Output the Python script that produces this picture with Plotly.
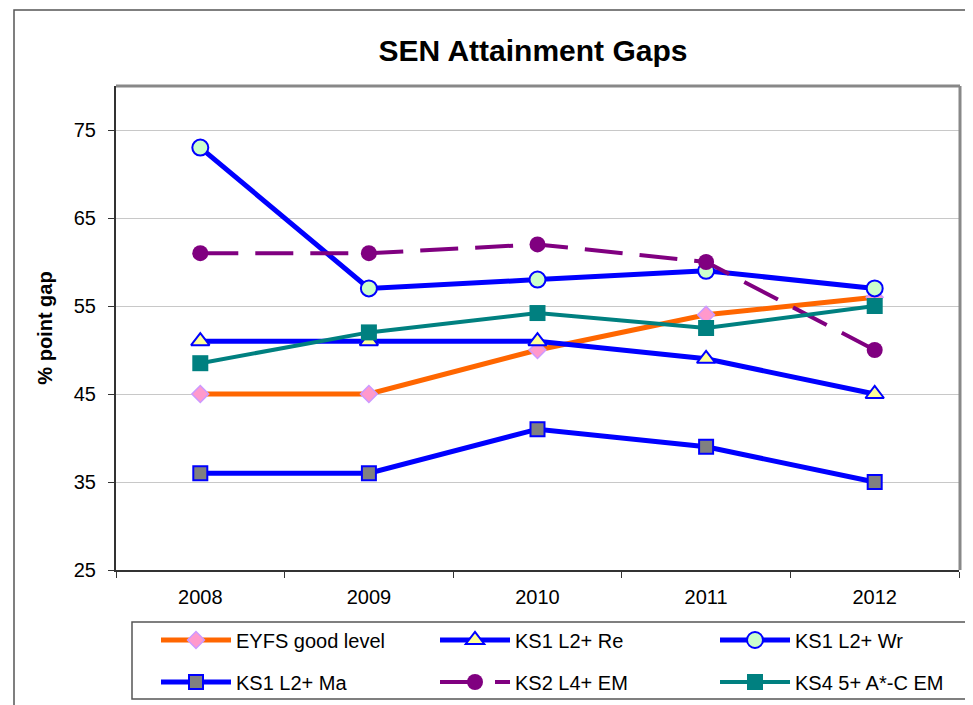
import plotly.graph_objects as go

years = ["2008", "2009", "2010", "2011", "2012"]
eyfs = [45, 45, 50, 54, 56]
ks1_re = [51, 51, 51, 49, 45]
ks1_wr = [73, 57, 58, 59, 57]
ks1_ma = [36, 36, 41, 39, 35]
ks2_em = [61, 61, 62, 60, 50]
ks4_em = [48.5, 52, 54.2, 52.5, 55]
y_ticks = [25, 35, 45, 55, 65, 75]

FONT = "Liberation Sans, Arial, sans-serif"
OFF = 8  # default page body margin
W, H = 973 - OFF, 705 - OFF
# plot area in window pixels: x 116..959, y 86..570
L, R, T, B = 116 - OFF, 973 - 959, 86 - OFF, 705 - 570
PW, PH = W - L - R, H - T - B


def px_x(x):
    return (x - OFF - L) / PW


def px_y(y):
    return (T + PH - (y - OFF)) / PH


fig = go.Figure()

series = [
    dict(name="EYFS good level", y=eyfs, line=dict(color="#FF6600", width=5),
         marker=dict(symbol="diamond", size=13, color="#FF99CC", line=dict(color="#CC99FF", width=1.5)),
         legend="legend"),
    dict(name="KS1 L2+ Re", y=ks1_re, line=dict(color="#0000FF", width=5),
         marker=dict(symbol="triangle-up", size=16, color="#FFFF99", line=dict(color="#0000FF", width=2)),
         legend="legend2"),
    dict(name="KS1 L2+ Wr", y=ks1_wr, line=dict(color="#0000FF", width=5),
         marker=dict(symbol="circle", size=16, color="#CCFFCC", line=dict(color="#0000FF", width=2)),
         legend="legend3"),
    dict(name="KS1 L2+ Ma", y=ks1_ma, line=dict(color="#0000FF", width=5),
         marker=dict(symbol="square", size=14, color="#808080", line=dict(color="#0000FF", width=2)),
         legend="legend"),
    dict(name="KS2 L4+ EM", y=ks2_em, line=dict(color="#800080", width=4, dash="38px,17px"),
         marker=dict(symbol="circle", size=16, color="#800080", line=dict(color="#800080", width=0)),
         legend="legend2"),
    dict(name="KS4 5+ A*-C EM", y=ks4_em, line=dict(color="#008080", width=4),
         marker=dict(symbol="square", size=16, color="#008080", line=dict(color="#008080", width=0)),
         legend="legend3"),
]

for i, s in enumerate(series):
    fig.add_trace(go.Scatter(x=years, y=s["y"], name=s["name"], mode="lines+markers",
                             line=s["line"], marker=s["marker"], legend=s["legend"],
                             legendgroup="g%d" % i))

legend_common = dict(orientation="v", xanchor="left", yanchor="middle",
                     font=dict(family=FONT, size=20, color="#000"),
                     bgcolor="rgba(0,0,0,0)", borderwidth=0,
                     itemwidth=70, tracegroupgap=13, traceorder="grouped")

col_x = [156, 435, 715]
mid_y = px_y(661)

fig.update_layout(
    width=W, height=H,
    margin=dict(l=L, r=R, t=T, b=B, autoexpand=False),
    paper_bgcolor="white", plot_bgcolor="white",
    font=dict(family=FONT, color="#000"),
    title=dict(text="<b>SEN Attainment Gaps</b>", x=px_x(533), xref="paper", xanchor="center",
               y=1 - (50 - OFF) / H, yref="container", yanchor="middle",
               font=dict(family=FONT, size=30, color="#000")),
    xaxis=dict(type="category", tickson="boundaries", ticks="outside", ticklen=6,
               tickcolor="#333", showline=True, linecolor="#333", linewidth=2,
               showgrid=False, tickfont=dict(family=FONT, size=20, color="#000"),
               ticklabelstandoff=8, range=[-0.5, 4.5]),
    yaxis=dict(range=[25, 80], tickvals=y_ticks, ticks="outside", ticklen=6, tickcolor="#333",
               showline=True, linecolor="#333", linewidth=2, showgrid=True,
               gridcolor="#C8C8C8", gridwidth=1, zeroline=False,
               tickfont=dict(family=FONT, size=20, color="#000"), ticklabelstandoff=8,
               title=dict(text="<b>% point gap</b>", standoff=16,
                          font=dict(family=FONT, size=20, color="#000"))),
    legend=dict(x=px_x(col_x[0]), y=mid_y, **legend_common),
    legend2=dict(x=px_x(col_x[1]), y=mid_y, **legend_common),
    legend3=dict(x=px_x(col_x[2]), y=mid_y, **legend_common),
    showlegend=True,
    shapes=[
        dict(type="rect", xref="paper", yref="paper", x0=px_x(14), x1=px_x(990),
             y0=px_y(720), y1=px_y(10), line=dict(color="#555", width=1.5), layer="below"),
        dict(type="line", xref="paper", yref="paper", x0=0, x1=px_x(960), y0=px_y(86), y1=px_y(86),
             line=dict(color="#888", width=3)),
        dict(type="line", xref="paper", yref="paper", x0=px_x(960), x1=px_x(960), y0=0, y1=px_y(86),
             line=dict(color="#888", width=3)),
        dict(type="rect", xref="paper", yref="paper", x0=px_x(132), x1=px_x(966),
             y0=px_y(699), y1=px_y(622), line=dict(color="#555", width=1.5)),
    ],
)

fig.write_html("out.html")
